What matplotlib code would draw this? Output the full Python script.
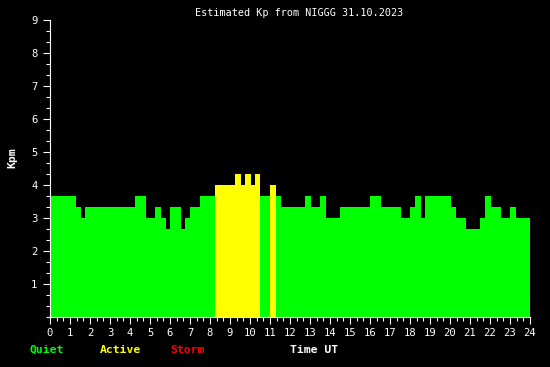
import numpy as np
import matplotlib
matplotlib.use("Agg")
import matplotlib.pyplot as plt
from matplotlib.ticker import MultipleLocator

# Начало на всеки интервал (часа UT) и оценка на Kp
start_h = [0.0, 1.3, 1.55, 1.75, 4.25, 4.8, 5.25, 5.55, 5.8, 6.0, 6.55, 6.75,
           7.0, 7.5, 8.25, 9.25, 9.55, 9.75, 10.05, 10.25, 10.5, 11.0, 11.3,
           11.55, 12.75, 13.05, 13.5, 13.8, 14.5, 16.0, 16.55, 17.55, 18.0,
           18.25, 18.55, 18.75, 20.05, 20.3, 20.8, 21.5, 21.75, 22.05, 22.55,
           23.0, 23.3]
end_h = 24.0
kp = [3.67, 3.33, 3.0, 3.33, 3.67, 3.0, 3.33, 3.0, 2.67, 3.33, 2.67, 3.0,
      3.33, 3.67, 4.0, 4.33, 4.0, 4.33, 4.0, 4.33, 3.67, 4.0, 3.67,
      3.33, 3.67, 3.33, 3.67, 3.0, 3.33, 3.67, 3.33, 3.0, 3.33,
      3.67, 3.0, 3.67, 3.33, 3.0, 2.67, 3.0, 3.67, 3.33, 3.0,
      3.33, 3.0]

x_labels = [str(h) for h in range(25)]
y_labels = [str(k) for k in range(1, 10)]

W, H = 550, 367
FONT = "DejaVu Sans Mono"


def boja(v):
    if v >= 5:
        return "#ff0000"
    if v >= 4:
        return "#ffff00"
    return "#00ff00"


starts = np.array(start_h)
widths = np.diff(np.append(starts, end_h))
colors = [boja(v) for v in kp]

fig = plt.figure(figsize=(W / 100, H / 100), dpi=100, facecolor="black")
ax = fig.add_axes([50 / W, (H - 317) / H, 480 / W, 297 / H])
ax.set_facecolor("black")

ax.bar(starts, kp, width=widths, align="edge", color=colors, linewidth=0)

ax.set_xlim(0, 24)
ax.set_ylim(0, 9)
ax.set_xticks(range(25))
ax.set_xticklabels(x_labels)
ax.set_yticks(range(1, 10))
ax.set_yticklabels(y_labels)
ax.xaxis.set_minor_locator(MultipleLocator(1 / 3))
ax.yaxis.set_minor_locator(MultipleLocator(1 / 3))

for s in ["top", "right"]:
    ax.spines[s].set_visible(False)
for s in ["left", "bottom"]:
    ax.spines[s].set_color("white")
    ax.spines[s].set_linewidth(0.8)

ax.tick_params(which="both", colors="white", direction="out", width=0.8)
ax.tick_params(which="major", length=5, labelsize=7.6)
ax.tick_params(which="minor", length=3)
ax.tick_params(axis="x", which="major", pad=3)
ax.tick_params(axis="y", which="major", pad=4)
for lbl in ax.get_xticklabels() + ax.get_yticklabels():
    lbl.set_family(FONT)

fig.text(299 / W, 1 - 13 / H, "Estimated Kp from NIGGG 31.10.2023",
         color="white", family=FONT, fontsize=7.3, ha="center", va="center")
fig.text(12 / W, 1 - 158 / H, "Kpm", color="white", family=FONT,
         fontsize=8.2, fontweight="bold", rotation=90, ha="center", va="center")

legenda = [("Quiet", "#00ff00", 30), ("Active", "#ffff00", 100),
           ("Storm", "#ff0000", 170), ("Time UT", "white", 290)]
for txt, c, xp in legenda:
    fig.text(xp / W, 1 - 350 / H, txt, color=c, family=FONT, fontsize=8.2,
             fontweight="bold", ha="left", va="center")

fig.savefig("out.png", dpi=100, facecolor="black")
